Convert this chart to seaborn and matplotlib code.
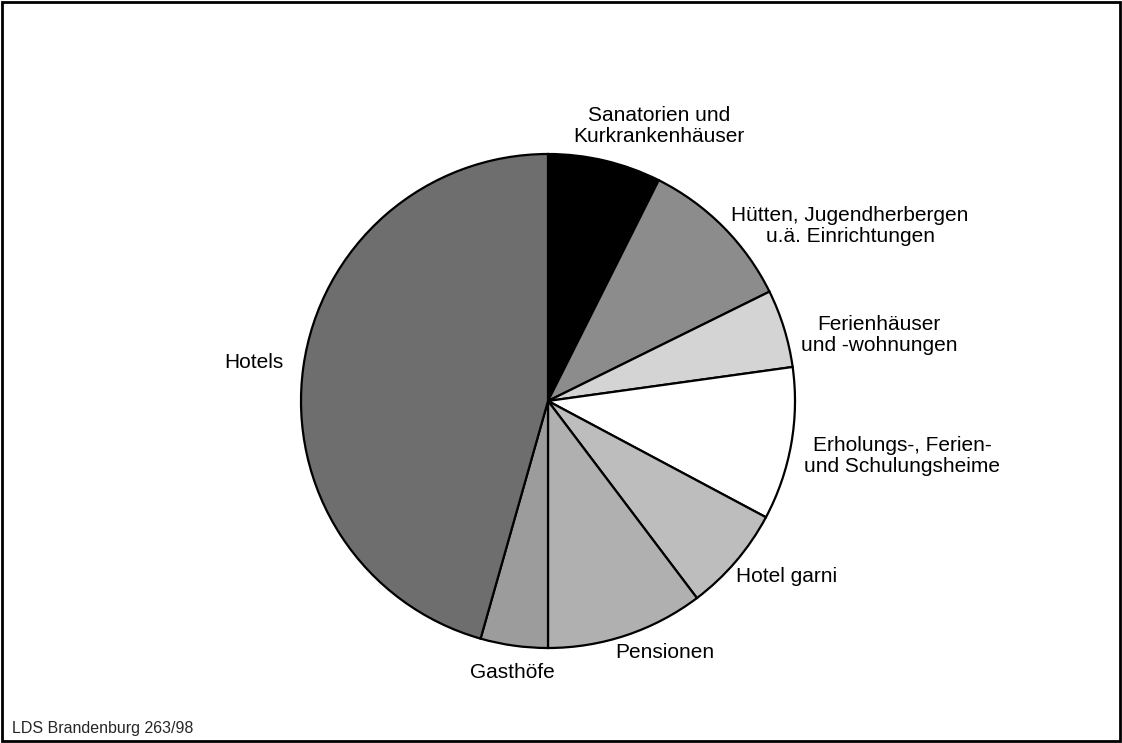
import matplotlib
matplotlib.use('Agg')
import matplotlib.pyplot as plt
import seaborn as sns
from matplotlib.patches import Rectangle

# Data (shares in %, clockwise from 12 o'clock)
categories = ['Sanatorien und\nKurkrankenhäuser',
              'Hütten, Jugendherbergen\nu.ä. Einrichtungen',
              'Ferienhäuser\nund -wohnungen',
              'Erholungs-, Ferien-\nund Schulungsheime',
              'Hotel garni',
              'Pensionen',
              'Gasthöfe',
              'Hotels']
shares = [7.4, 10.3, 5.1, 10.0, 6.9, 10.3, 4.4, 45.6]
colors = ['#000000', '#8c8c8c', '#d4d4d4', '#ffffff',
          '#bdbdbd', '#b0b0b0', '#9c9c9c', '#6e6e6e']

# label anchor points in pixels of the 1122x743 canvas
label_px = [(659, 126), (850, 226), (879, 335), (902, 456),
            (787, 577), (665, 652), (512, 673), (254, 363)]
footer = 'LDS Brandenburg 263/98'

sns.set_theme(style='white')
plt.rcParams['font.family'] = ['Liberation Sans', 'DejaVu Sans']

W, H = 1122, 743
fig = plt.figure(figsize=(W / 100, H / 100), dpi=100)
fig.patch.set_facecolor('white')

# pie axes: centre (548, 401) px, radius 247 px
cx, cy, r = 548, 401, 247
ax = fig.add_axes([(cx - r) / W, (H - cy - r) / H, 2 * r / W, 2 * r / H])
ax.pie(shares, colors=colors, startangle=90, counterclock=False, radius=1,
       wedgeprops=dict(edgecolor='black', linewidth=1.6))
ax.set_xlim(-1, 1)
ax.set_ylim(-1, 1)
ax.set_aspect('equal')
ax.axis('off')

for lab, (px, py) in zip(categories, label_px):
    fig.text(px / W, 1 - py / H, lab, ha='center', va='center',
             fontsize=15, linespacing=1.1, color='black')

fig.text(12 / W, 1 - 728 / H, footer, ha='left', va='center', fontsize=11.5)

# frame round the whole figure
fig.patches.append(Rectangle((0.002, 0.003), 0.996, 0.994, transform=fig.transFigure,
                             fill=False, edgecolor='black', linewidth=2))

fig.savefig('out.png', dpi=100)
